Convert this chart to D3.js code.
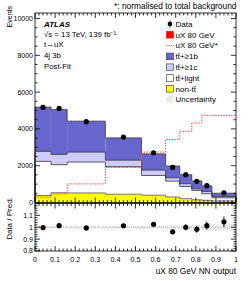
<!doctype html><html><head><meta charset="utf-8">
<style>
  body { margin: 0; background: #fff; }
  text { font-family: "Liberation Sans", Arial, Helvetica, sans-serif; fill: #000; }
</style>
</head><body><script src='https://d3js.org/d3.v7.min.js'></script>

<script>
  // bin edges of the NN output
  const edges = [0, 0.08, 0.16, 0.35, 0.53, 0.65, 0.72, 0.78, 0.83, 0.88, 1.0];

  // background components (events)
  const tt1b    = [2400, 2435, 1680, 1210, 880, 635, 490, 425, 300, 178];
  const tt1c    = [545, 560, 540, 350, 290, 185, 150, 90, 125, 71];
  const ttLight = [1855, 1525, 1680, 1500, 1070, 860, 660, 505, 355, 176];
  const nonTT   = [380, 530, 520, 450, 400, 300, 210, 150, 120, 80];

  // signal normalised to total background (dashed)
  const sigNorm = [290, 470, 1010, 1900, 2740, 3430, 3870, 4320, 4740, 4740];

  // data and stat errors
  const dataVals = [5165, 5115, 4395, 3555, 2705, 1905, 1510, 1150, 912, 528];
  const dataErr  = [72, 71, 66, 60, 52, 44, 39, 34, 31, 23];

  // relative uncertainty of the prediction
  const relUnc = [0.01, 0.01, 0.01, 0.012, 0.012, 0.015, 0.018, 0.02, 0.025, 0.03];

  const yTicks = [0, 2000, 4000, 6000, 8000, 10000];
  const rTicks = [0.8, 0.9, 1, 1.1];
  const xTicks = [0, 0.1, 0.2, 0.3, 0.4, 0.5, 0.6, 0.7, 0.8, 0.9, 1];

  const W = 249, H = 281;
  const L = 35, R = 236, T = 13, MB = 202.5, RT = 203.5, RB = 251;

  const svg = d3.select("body").append("svg")
    .attr("width", W).attr("height", H);

  const defs = svg.append("defs");
  const pat = defs.append("pattern")
    .attr("id", "hatch").attr("patternUnits", "userSpaceOnUse")
    .attr("width", 2.5).attr("height", 2.5)
    .attr("patternTransform", "rotate(45)");
  pat.append("line").attr("x1", 0).attr("y1", 0).attr("x2", 0).attr("y2", 2.5)
    .attr("stroke", "#888").attr("stroke-width", 0.7);

  const x = d3.scaleLinear().domain([0, 1]).range([L, R]);
  const y = d3.scaleLinear().domain([0, 10300]).range([MB, T]);
  const yr = d3.scaleLinear().domain([0.8, 1.2]).range([RB, RT]);

  const bins = d3.range(tt1b.length).map(function(i) {
    return { i: i, lo: edges[i], hi: edges[i + 1], mid: (edges[i] + edges[i + 1]) / 2,
      nonTT: nonTT[i], ttLight: ttLight[i], tt1c: tt1c[i], tt1b: tt1b[i] };
  });

  const keys = ["nonTT", "ttLight", "tt1c", "tt1b"];
  const colors = { nonTT: "#ffff00", ttLight: "#ffffff", tt1c: "#ccccff", tt1b: "#6666cc" };
  const stacked = d3.stack().keys(keys)(bins);

  const main = svg.append("g");

  // stacked histograms
  stacked.forEach(function(layer) {
    main.selectAll(null).data(layer).enter().append("rect")
      .attr("x", function(d) { return x(d.data.lo); })
      .attr("width", function(d) { return x(d.data.hi) - x(d.data.lo); })
      .attr("y", function(d) { return y(d[1]); })
      .attr("height", function(d) { return y(d[0]) - y(d[1]); })
      .attr("fill", colors[layer.key]);
  });

  // step outlines of each cumulative layer
  function stepPath(vals) {
    let p = "M" + x(edges[0]) + "," + y(0);
    vals.forEach(function(v, i) {
      p += "L" + x(edges[i]) + "," + y(v) + "L" + x(edges[i + 1]) + "," + y(v);
    });
    return p + "L" + x(edges[edges.length - 1]) + "," + y(0);
  }
  stacked.forEach(function(layer) {
    main.append("path")
      .attr("d", stepPath(layer.map(function(d) { return d[1]; })))
      .attr("fill", "none")
      .attr("stroke", layer.key == "nonTT" ? "#555" : "#333")
      .attr("stroke-width", 0.8);
  });

  const total = stacked[stacked.length - 1].map(function(d) { return d[1]; });

  // uncertainty band on the total
  main.selectAll(null).data(bins).enter().append("rect")
    .attr("x", function(d) { return x(d.lo); })
    .attr("width", function(d) { return x(d.hi) - x(d.lo); })
    .attr("y", function(d, i) { return y(total[i] * (1 + relUnc[i])); })
    .attr("height", function(d, i) { return y(total[i] * (1 - relUnc[i])) - y(total[i] * (1 + relUnc[i])); })
    .attr("fill", "url(#hatch)");

  // normalised signal, dashed
  let sp = "";
  sigNorm.forEach(function(v, i) {
    sp += (i == 0 ? "M" : "L") + x(edges[i]) + "," + y(v) + "L" + x(edges[i + 1]) + "," + y(v);
  });
  main.append("path").attr("d", sp)
    .attr("fill", "none").attr("stroke", "#ff3333")
    .attr("stroke-width", 0.9).attr("stroke-dasharray", "1.5,1.2");

  // data
  main.selectAll(null).data(bins).enter().append("line")
    .attr("x1", function(d) { return x(d.mid); }).attr("x2", function(d) { return x(d.mid); })
    .attr("y1", function(d, i) { return y(dataVals[i] - dataErr[i]); })
    .attr("y2", function(d, i) { return y(dataVals[i] + dataErr[i]); })
    .attr("stroke", "#000").attr("stroke-width", 0.9);
  main.selectAll(null).data(bins).enter().append("circle")
    .attr("cx", function(d) { return x(d.mid); })
    .attr("cy", function(d, i) { return y(dataVals[i]); })
    .attr("r", 2.6).attr("fill", "#000");

  // ratio panel
  const rat = svg.append("g");
  rat.selectAll(null).data(bins).enter().append("rect")
    .attr("x", function(d) { return x(d.lo); })
    .attr("width", function(d) { return x(d.hi) - x(d.lo); })
    .attr("y", function(d, i) { return yr(1 + relUnc[i]); })
    .attr("height", function(d, i) { return yr(1 - relUnc[i]) - yr(1 + relUnc[i]); })
    .attr("fill", "url(#hatch)");
  rat.append("line").attr("x1", L).attr("x2", R).attr("y1", yr(1)).attr("y2", yr(1))
    .attr("stroke", "#999").attr("stroke-width", 0.6).attr("stroke-dasharray", "1,1");
  rat.selectAll(null).data(bins).enter().append("line")
    .attr("x1", function(d) { return x(d.mid); }).attr("x2", function(d) { return x(d.mid); })
    .attr("y1", function(d, i) { return yr((dataVals[i] - dataErr[i]) / total[i]); })
    .attr("y2", function(d, i) { return yr((dataVals[i] + dataErr[i]) / total[i]); })
    .attr("stroke", "#000").attr("stroke-width", 0.9);
  rat.selectAll(null).data(bins).enter().append("circle")
    .attr("cx", function(d) { return x(d.mid); })
    .attr("cy", function(d, i) { return yr(dataVals[i] / total[i]); })
    .attr("r", 2.6).attr("fill", "#000");

  // frames and ticks (inside, on all four sides)
  function frame(top, bottom, ys, major, minor) {
    const g = svg.append("g").attr("stroke", "#000").attr("stroke-width", 0.8);
    g.append("rect").attr("x", L).attr("y", top).attr("width", R - L).attr("height", bottom - top)
      .attr("fill", "none");
    const xMinor = d3.range(0, 1.0001, 0.02);
    xMinor.forEach(function(v) {
      const isMaj = Math.abs(v * 10 - Math.round(v * 10)) < 1e-6;
      const len = isMaj ? 5 : 2.5;
      g.append("line").attr("x1", x(v)).attr("x2", x(v)).attr("y1", bottom).attr("y2", bottom - len);
      g.append("line").attr("x1", x(v)).attr("x2", x(v)).attr("y1", top).attr("y2", top + len);
    });
    const d0 = ys.domain();
    d3.range(d0[0], d0[1] + 1e-9, minor).forEach(function(v) {
      const isMaj = Math.abs(v / major - Math.round(v / major)) < 1e-6;
      const len = isMaj ? 5 : 2.5;
      g.append("line").attr("x1", L).attr("x2", L + len).attr("y1", ys(v)).attr("y2", ys(v));
      g.append("line").attr("x1", R).attr("x2", R - len).attr("y1", ys(v)).attr("y2", ys(v));
    });
  }
  frame(T, MB, y, 2000, 500);
  frame(RT, RB, yr, 0.1, 0.02);

  // tick labels
  svg.selectAll(null).data(yTicks).enter().append("text")
    .attr("x", L - 2).attr("y", function(d) { return y(d); }).attr("dy", "0.35em")
    .attr("text-anchor", "end").attr("font-size", "7px")
    .text(function(d) { return d; });
  svg.selectAll(null).data(rTicks).enter().append("text")
    .attr("x", L - 2).attr("y", function(d) { return yr(d); }).attr("dy", "0.35em")
    .attr("text-anchor", "end").attr("font-size", "7px")
    .text(function(d) { return d; });
  svg.selectAll(null).data(xTicks).enter().append("text")
    .attr("x", function(d) { return x(d); }).attr("y", 262)
    .attr("text-anchor", "middle").attr("font-size", "7.2px")
    .text(function(d) { return d; });

  // axis titles
  svg.append("text").attr("transform", "translate(11.5,6) rotate(-90)")
    .attr("text-anchor", "end").attr("font-size", "7px").text("Events");
  svg.append("text").attr("transform", "translate(12,218.5) rotate(-90)")
    .attr("text-anchor", "middle").attr("font-size", "8px").text("Data / Pred.");
  svg.append("text").attr("x", R).attr("y", 274)
    .attr("text-anchor", "end").attr("font-size", "8.3px").text("uX 80 GeV NN output");
  svg.append("text").attr("x", R + 0.5).attr("y", 8.5)
    .attr("text-anchor", "end").attr("font-size", "8.4px").text("*: normalised to total background");

  // ATLAS labels
  svg.append("text").attr("x", 44).attr("y", 27)
    .attr("font-size", "8px").attr("font-weight", "bold").attr("font-style", "italic").text("ATLAS");
  const info = ["\u221As = 13 TeV, 139 fb\u207B\u00B9", "t\u2192uX", "4j 3b", "Post-Fit"];
  svg.selectAll(null).data(info).enter().append("text")
    .attr("x", 44).attr("y", function(d, i) { return 36.5 + i * 10.7; })
    .attr("font-size", "7.8px").text(function(d) { return d; });

  // legend
  const leg = [
    { label: "Data", type: "data" },
    { label: "uX 80 GeV", type: "box", fill: "#ff0000", stroke: "#ff0000" },
    { label: "uX 80 GeV*", type: "dash" },
    { label: "t\u0074\u0304+\u22651b", type: "box", fill: "#6666cc", stroke: "#333" },
    { label: "t\u0074\u0304+\u22651c", type: "box", fill: "#ccccff", stroke: "#333" },
    { label: "t\u0074\u0304+light", type: "box", fill: "#ffffff", stroke: "#333" },
    { label: "non-t\u0074\u0304", type: "box", fill: "#ffff00", stroke: "#333" },
    { label: "Uncertainty", type: "hatch" }
  ];
  const lg = svg.selectAll(null).data(leg).enter().append("g")
    .attr("transform", function(d, i) { return "translate(166," + (24 + i * 10.8) + ")"; });
  lg.each(function(d) {
    const g = d3.select(this);
    if (d.type == "data") {
      g.append("circle").attr("cx", 4).attr("cy", 0).attr("r", 2.3).attr("fill", "#000");
      g.append("line").attr("x1", 4).attr("x2", 4).attr("y1", -3.5).attr("y2", 3.5).attr("stroke", "#000").attr("stroke-width", 0.8);
    } else if (d.type == "box") {
      g.append("rect").attr("x", 0.5).attr("y", -3.3).attr("width", 7).attr("height", 6.6)
        .attr("fill", d.fill).attr("stroke", d.stroke).attr("stroke-width", 0.6);
    } else if (d.type == "dash") {
      g.append("line").attr("x1", 0).attr("x2", 8).attr("y1", 0).attr("y2", 0)
        .attr("stroke", "#ff3333").attr("stroke-width", 0.8).attr("stroke-dasharray", "1.3,1");
    } else {
      g.append("rect").attr("x", 0.5).attr("y", -3.3).attr("width", 7).attr("height", 6.6)
        .attr("fill", "url(#hatch)");
    }
    g.append("text").attr("x", 9.5).attr("y", 0).attr("dy", "0.35em")
      .attr("font-size", "8px").text(d.label);
  });
</script></body></html>
